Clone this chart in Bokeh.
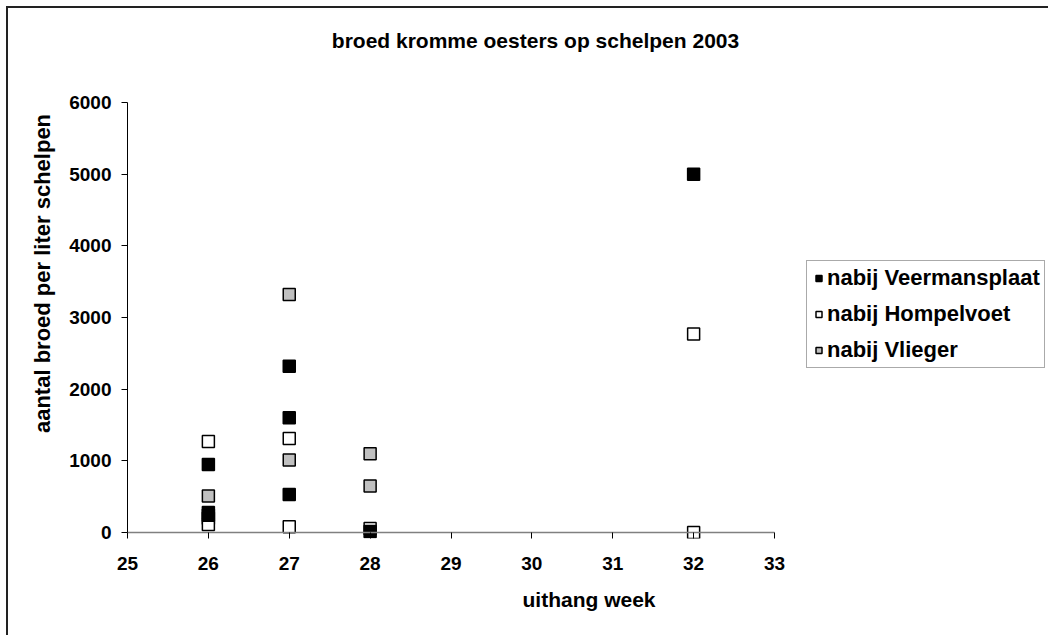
from bokeh.plotting import figure
from bokeh.models import Range1d, FixedTicker, Legend, LegendItem, Label
from bokeh.embed import file_html
from bokeh.resources import INLINE

# ---- data ----
title_text = "broed kromme oesters op schelpen 2003"
x_label = "uithang week"
y_label = "aantal broed per liter schelpen"

series_names = ["nabij Veermansplaat", "nabij Hompelvoet", "nabij Vlieger"]

veer_week = [26, 26, 26, 27, 27, 27, 28, 32]
veer_val = [950, 280, 240, 2320, 1600, 530, 15, 5000]

homp_week = [26, 26, 26, 27, 27, 28, 32, 32]
homp_val = [1270, 200, 110, 1310, 80, 55, 2770, 0]

vlieg_week = [26, 27, 27, 28, 28]
vlieg_val = [510, 3320, 1010, 1100, 650]

x_ticks = [25, 26, 27, 28, 29, 30, 31, 32, 33]
y_ticks = [0, 1000, 2000, 3000, 4000, 5000, 6000]

FONT = "Liberation Sans"

# layout (pixels)
W, H = 1042, 629
LEFT = 119
PLOT_TOP = 94               # distance from canvas top to the 6000 line
FRAME_W = W - LEFT          # frame runs to the right edge (legend is cut there)
PX_PER_WEEK = 80.875
PX_PER_UNIT = 430 / 6000.0
BELOW_ZERO_PX = 6
FRAME_H = PLOT_TOP + 430 + BELOW_ZERO_PX
BOTTOM = H - FRAME_H

x_end = x_ticks[0] + FRAME_W / PX_PER_WEEK
y_start = -BELOW_ZERO_PX / PX_PER_UNIT
y_end = y_ticks[-1] + PLOT_TOP / PX_PER_UNIT

p = figure(width=W, height=H, output_backend="svg", toolbar_location=None,
           x_range=Range1d(x_ticks[0], x_end), y_range=Range1d(y_start, y_end),
           min_border_left=LEFT, min_border_right=0,
           min_border_top=0, min_border_bottom=BOTTOM)
p.styles = {"margin-left": "6px", "margin-top": "6px",
            "border-left": "2px solid #222222", "border-top": "2px solid #222222"}
p.outline_line_color = None
p.xgrid.visible = False
p.ygrid.visible = False
p.background_fill_color = "white"
p.border_fill_color = "white"

# title
p.add_layout(Label(x=408, y=FRAME_H - 32, x_units="screen", y_units="screen",
                   text=title_text, text_font=FONT, text_font_style="bold",
                   text_font_size="21px", text_align="center",
                   text_baseline="alphabetic", text_color="black"))

# draw order: white, gray, black (black on top)
r_homp = p.scatter(homp_week, homp_val, marker="square", size=12,
                   fill_color="white", line_color="black", line_width=1.5)
r_vlieg = p.scatter(vlieg_week, vlieg_val, marker="square", size=12,
                    fill_color="#c0c0c0", line_color="black", line_width=1.5)
r_veer = p.scatter(veer_week, veer_val, marker="square", size=12,
                   fill_color="black", line_color="black", line_width=1.5)

# category axis line at y = 0, drawn over the markers
p.segment(x0=[x_ticks[0]], y0=[y_ticks[0]], x1=[x_ticks[-1]], y1=[y_ticks[0]],
          line_color="#808080", line_width=1.5)

# axes
for ax in (p.xaxis[0], p.yaxis[0]):
    ax.major_label_text_font = FONT
    ax.major_label_text_font_style = "bold"
    ax.major_label_text_font_size = "19px"
    ax.major_label_text_color = "black"
    ax.axis_label_text_font = FONT
    ax.axis_label_text_font_style = "bold"
    ax.axis_label_text_color = "black"
    ax.minor_tick_line_color = None
    ax.major_tick_line_color = "black"

p.xaxis.axis_label_text_font_size = "21px"
p.yaxis.axis_label_text_font_size = "22px"
p.xaxis.ticker = FixedTicker(ticks=x_ticks)
p.yaxis.ticker = FixedTicker(ticks=y_ticks)
p.xaxis.axis_line_color = None
p.xaxis.major_tick_in = BELOW_ZERO_PX
p.xaxis.major_tick_out = 0
p.yaxis.major_tick_in = 0
p.yaxis.major_tick_out = 6
p.yaxis.bounds = (y_ticks[0], y_ticks[-1])
p.yaxis.axis_line_color = "black"
p.yaxis.axis_line_width = 1
p.xaxis.major_label_standoff = 18
p.yaxis.major_label_standoff = 10
p.xaxis.axis_label = x_label
p.yaxis.axis_label = y_label
p.xaxis.axis_label_standoff = 15
p.yaxis.axis_label_standoff = 11

legend = Legend(items=[LegendItem(label=series_names[0], renderers=[r_veer]),
                       LegendItem(label=series_names[1], renderers=[r_homp]),
                       LegendItem(label=series_names[2], renderers=[r_vlieg])],
                location=(679, 170))
legend.label_text_font = FONT
legend.label_text_font_style = "bold"
legend.label_text_font_size = "22px"
legend.label_text_color = "black"
legend.label_height = 22
legend.glyph_height = 20
legend.glyph_width = 15
legend.spacing = 10
legend.padding = 4
legend.margin = 0
legend.label_standoff = 1
legend.border_line_color = "#555555"
legend.border_line_width = 1.5
legend.background_fill_color = "white"
legend.background_fill_alpha = 1
p.add_layout(legend, "center")

open("out.html", "w").write(file_html(p, INLINE))
